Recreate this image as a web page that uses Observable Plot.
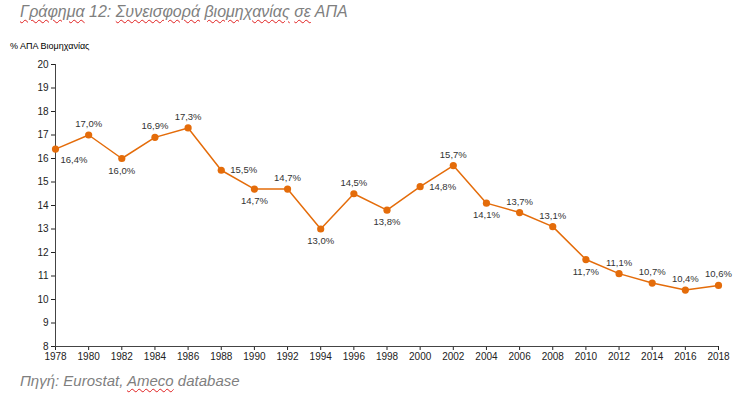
<!DOCTYPE html>
<html>
<head>
<meta charset="utf-8">
<script src="https://cdn.jsdelivr.net/npm/d3@7"></script>
<script src="https://cdn.jsdelivr.net/npm/@observablehq/plot@0.6"></script>
<style>
  body { margin: 0; background: #fff; font-family: "Liberation Sans", Arial, sans-serif; }
  #wrap { width: 745px; height: 393px; overflow: hidden; }
  #title { height: 30px; padding-left: 20px; font-size: 16px; line-height: 24px; font-style: italic; color: #7f7f7f; white-space: nowrap; }
  #ylab { height: 24px; padding-left: 10px; font-size: 9px; line-height: 12px; padding-top: 10px; box-sizing: border-box; color: #000; }
  #caption { height: 25px; padding-left: 20px; font-size: 15px; line-height: 25px; font-style: italic; color: #7f7f7f; white-space: nowrap; }
  .sp { text-decoration: underline wavy #e02020; text-decoration-thickness: 1px; text-underline-offset: 2px; }
  svg { display: block; }
</style>
</head>
<body>
<div id="wrap">
  <div id="title"><span class="sp">Γράφημα</span> 12: <span class="sp">Συνεισφορά</span> <span class="sp">βιομηχανίας</span> <span class="sp">σε</span> ΑΠΑ</div>
  <div id="ylab">% ΑΠΑ Βιομηχανίας</div>
  <div id="chart"></div>
  <div id="caption">Πηγή: Eurostat, <span class="sp">Ameco</span> database</div>
</div>
<script>
const years = [1978, 1980, 1982, 1984, 1986, 1988, 1990, 1992, 1994, 1996, 1998, 2000, 2002, 2004, 2006, 2008, 2010, 2012, 2014, 2016, 2018];
const shares = [16.4, 17.0, 16.0, 16.9, 17.3, 15.5, 14.7, 14.7, 13.0, 14.5, 13.8, 14.8, 15.7, 14.1, 13.7, 13.1, 11.7, 11.1, 10.7, 10.4, 10.6];
const labelSide = ["belowright", "above", "below", "above", "above", "right", "below", "above", "below", "above", "below", "right", "above", "below", "above", "above", "below", "above", "above", "above", "above"];
const yTicks = [8, 9, 10, 11, 12, 13, 14, 15, 16, 17, 18, 19, 20];

const data = years.map((y, i) => ({year: y, value: shares[i], side: labelSide[i]}));
const fmt = v => v.toFixed(1).replace(".", ",") + "%";
const orange = "#E46C0A";
const lbl = {fontSize: 9.5, fill: "#333", fontFamily: "Liberation Sans, Arial, sans-serif"};

const chart = Plot.plot({
  width: 745,
  height: 314,
  marginTop: 10,
  marginBottom: 22,
  marginLeft: 55,
  marginRight: 27,
  style: {fontFamily: "Liberation Sans, Arial, sans-serif", fontSize: "10px", color: "#222", background: "#fff"},
  x: {domain: [1978, 2018], ticks: years, tickFormat: d => String(d), tickSize: 4, tickPadding: 2, label: null},
  y: {domain: [8, 20], ticks: yTicks, tickSize: 4, tickPadding: 3, label: null},
  marks: [
    Plot.ruleY([8], {stroke: "#444", strokeWidth: 1}),
    Plot.ruleX([1978], {stroke: "#444", strokeWidth: 1}),
    Plot.line(data, {x: "year", y: "value", stroke: orange, strokeWidth: 1.5}),
    Plot.dot(data, {x: "year", y: "value", r: 3.6, fill: orange, stroke: "none"}),
    Plot.text(data.filter(d => d.side === "above"), {x: "year", y: "value", text: d => fmt(d.value), dy: -11, ...lbl}),
    Plot.text(data.filter(d => d.side === "below"), {x: "year", y: "value", text: d => fmt(d.value), dy: 12, ...lbl}),
    Plot.text(data.filter(d => d.side === "right"), {x: "year", y: "value", text: d => fmt(d.value), dx: 9, textAnchor: "start", ...lbl}),
    Plot.text(data.filter(d => d.side === "belowright"), {x: "year", y: "value", text: d => fmt(d.value), dx: 5, dy: 11, textAnchor: "start", ...lbl})
  ]
});
document.getElementById("chart").appendChild(chart);
</script>
</body>
</html>
